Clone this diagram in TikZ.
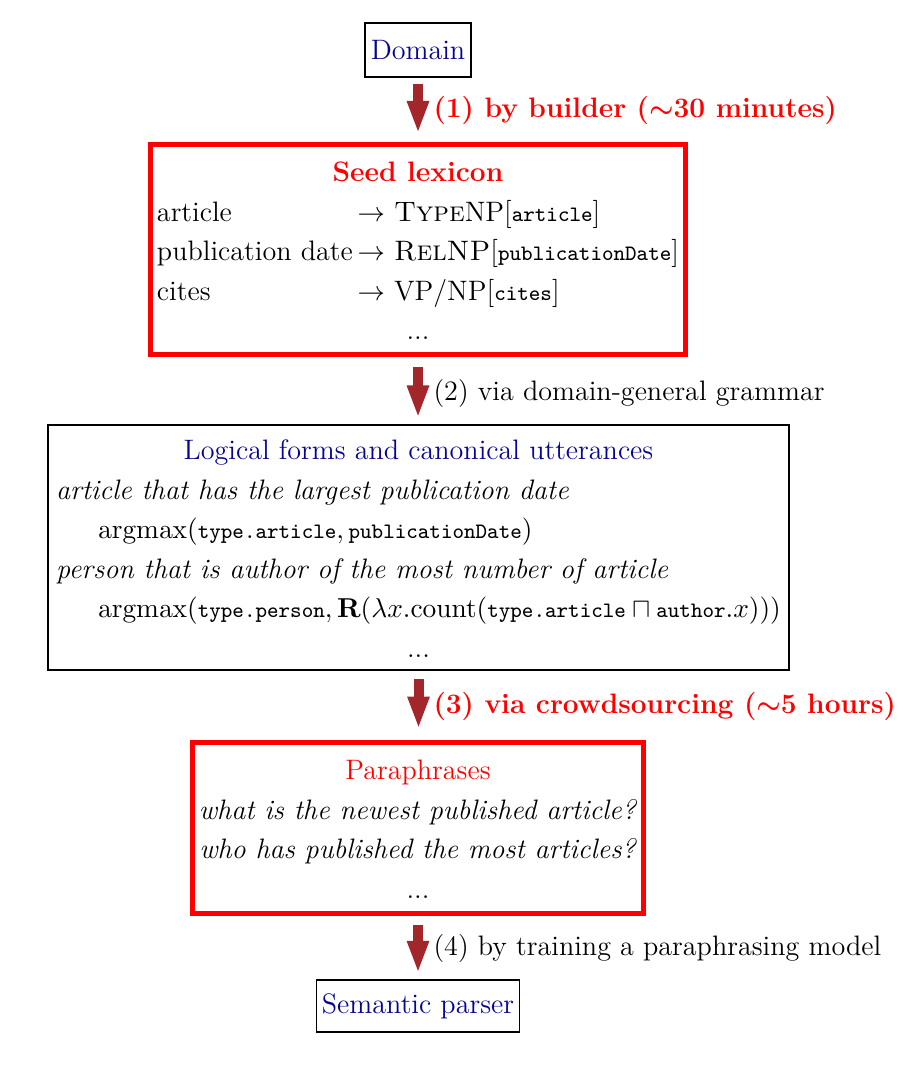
\documentclass[tikz,border=0pt]{standalone}
\usetikzlibrary{arrows.meta}
\definecolor{arrred}{RGB}{163,38,42}
\definecolor{tblue}{RGB}{5,5,145}
\newcommand{\ttsm}[1]{\mbox{\fontsize{8.8}{10}\selectfont\ttfamily #1}}
\newcommand{\lowerit}[1]{\raisebox{-1.3pt}[\height][\depth]{#1}}
\begin{document}
\begin{tikzpicture}[x=0.4pt,y=-0.4pt,
  font=\fontsize{11.25}{15.8}\selectfont,
  thinbox/.style={draw=black, line width=0.6pt, inner sep=0pt},
  redbox/.style={draw=red, line width=2pt, inner sep=0pt},
  blackbox/.style={draw=black, line width=0.8pt, inner sep=0pt},
  flow/.style={draw=arrred, line width=4pt, -{Triangle[width=8pt,length=13pt]}},
  redlabel/.style={anchor=west, text=red, font=\fontsize{11.25}{15.8}\selectfont\bfseries\boldmath, inner sep=0pt},
  blacklabel/.style={anchor=west, text=black, inner sep=0pt}]
\useasboundingbox (0,0) rectangle (902,1070);

\node[thinbox, minimum width=42.4pt, minimum height=21.6pt, text=tblue] (domain) at (418,50) {Domain};

\node[redbox, minimum width=214pt, minimum height=84.2pt] (seed) at (418,249.75) {\lowerit{%
  \def\arraystretch{1}%
  \begin{tabular}{@{}l@{\,}l@{}}
  \multicolumn{2}{c}{\textcolor{red}{\bfseries Seed lexicon}}\\
  article & $\rightarrow$ \textsc{Type}NP[\ttsm{article}]\\
  publication date & $\rightarrow$ \textsc{RelNP}[\ttsm{publicationDate}]\\
  cites & $\rightarrow$ VP/NP[\ttsm{cites}]\\
  \multicolumn{2}{c}{...}
  \end{tabular}}};

\node[blackbox, minimum width=296.4pt, minimum height=98pt] (logic) at (418.5,547.5) {\lowerit{%
  \begin{tabular}{@{}l@{}}
  \multicolumn{1}{c}{\textcolor{tblue}{Logical forms and canonical utterances}}\\
  \textit{article that has the largest publication date}\\
  \hspace*{16.8pt}$\mathrm{argmax}(\ttsm{type.article}, \ttsm{publicationDate})$\\
  \textit{person that is author of the most number of article}\\
  \hspace*{16.8pt}$\mathrm{argmax}(\ttsm{type.person}, \mathbf{R}(\lambda x.\mathrm{count}(\ttsm{type.article} \sqcap \ttsm{author}.x)))$\\
  \multicolumn{1}{c}{...}
  \end{tabular}}};

\node[redbox, minimum width=180.6pt, minimum height=68.2pt] (para) at (418,827.75) {\lowerit{%
  \begin{tabular}{@{}c@{}}
  \textcolor{red}{Paraphrases}\\
  \textit{what is the newest published article?}\\
  \textit{who has published the most articles?}\\
  ...
  \end{tabular}}};

\node[thinbox, minimum width=81.2pt, minimum height=20.8pt, text=tblue] (parser) at (418,1006) {Semantic parser};

\draw[flow, shorten <=2.4pt, shorten >=3.4pt] (domain.south) -- (domain.south |- seed.north);
\draw[flow, shorten <=3.6pt, shorten >=2.4pt] (seed.south) -- (seed.south |- logic.north);
\draw[flow, shorten <=3.2pt, shorten >=4.4pt] (logic.south) -- (logic.south |- para.north);
\draw[flow, shorten <=3.6pt, shorten >=2.4pt] (para.south) -- (para.south |- parser.north);

\node[redlabel] (l1) at (433,110) {(1) by builder ($\sim$30 minutes)};
\node[blacklabel] (l2) at (433,393) {(2) via domain-general grammar};
\node[redlabel] (l3) at (433,706) {(3) via crowdsourcing ($\sim$5 hours)};
\node[blacklabel] (l4) at (433,948) {(4) by training a paraphrasing model};
\end{tikzpicture}
\end{document}
